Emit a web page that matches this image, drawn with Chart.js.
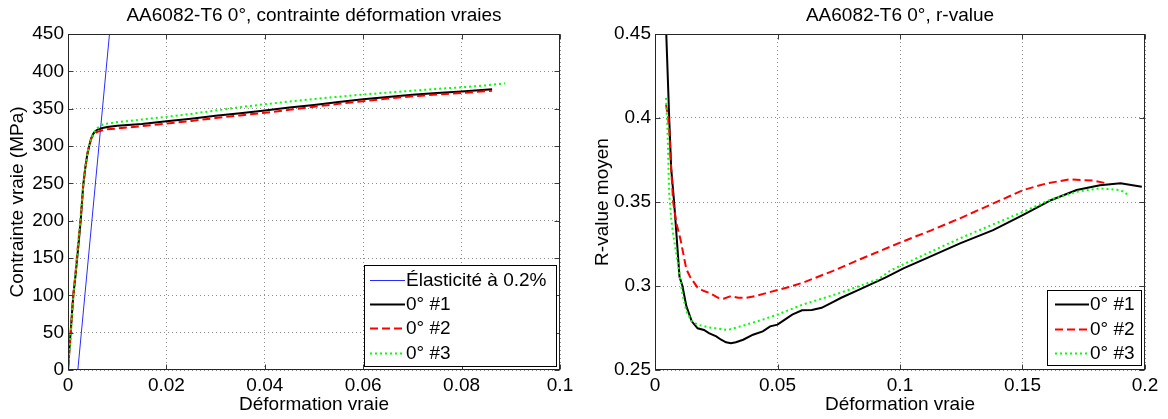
<!DOCTYPE html>
<html>
<head>
<meta charset="utf-8">
<script src="https://cdn.jsdelivr.net/npm/chart.js@4.4.1/dist/chart.umd.min.js"></script>
<style>
  html, body { margin: 0; padding: 0; background: #fff; }
  #wrap { position: relative; width: 1168px; height: 419px; overflow: hidden; background: #fff; }
  canvas { position: absolute; top: 0; }
  #stressChart { left: 0; }
  #rvalueChart { left: 584px; }
</style>
</head>
<body>
<div id="wrap">
  <canvas id="stressChart" width="584" height="419"></canvas>
  <canvas id="rvalueChart" width="584" height="419"></canvas>
</div>
<script>
// ---------- True stress / true strain (MPa) ----------
const elasticStrain = [0.002, 0.0086];
const elasticStress = [0, 462];

const strain1 = [0, 0.0003, 0.00055, 0.0008, 0.00108, 0.0015, 0.0019, 0.0023, 0.0026, 0.0031, 0.0035, 0.0039, 0.0043, 0.0047, 0.0051, 0.0055, 0.006, 0.007, 0.008, 0.01, 0.015, 0.02, 0.025, 0.03, 0.035, 0.04, 0.045, 0.05, 0.055, 0.06, 0.065, 0.07, 0.075, 0.08, 0.0862];
const stress1 = [0, 30, 52, 75, 100, 125, 152, 180, 202, 248, 270, 288, 300, 310, 316, 319.5, 322, 324, 325.5, 327, 329.5, 333, 336.5, 340.5, 344, 347.5, 351.5, 355, 359, 362.5, 365.5, 368.5, 371, 373, 376];

const strain2 = [0, 0.0003, 0.0006, 0.001, 0.0015, 0.002, 0.0026, 0.0031, 0.0036, 0.004, 0.0044, 0.0048, 0.0052, 0.0056, 0.006, 0.007, 0.008, 0.01, 0.015, 0.02, 0.025, 0.03, 0.035, 0.04, 0.045, 0.05, 0.055, 0.06, 0.065, 0.07, 0.075, 0.08, 0.0862];
const stress2 = [0, 28, 52, 95, 128, 165, 205, 248, 275, 292, 303, 311, 315, 317.5, 319, 321, 322.5, 323.5, 326.5, 330, 333.5, 337.5, 341, 344.5, 348.5, 352.5, 356.5, 360, 363.5, 366.5, 369, 371, 374];

const strain3 = [0, 0.0004, 0.0008, 0.0012, 0.0017, 0.0022, 0.0027, 0.0032, 0.0037, 0.0042, 0.0047, 0.0052, 0.006, 0.007, 0.008, 0.01, 0.015, 0.02, 0.025, 0.03, 0.035, 0.04, 0.045, 0.05, 0.055, 0.06, 0.065, 0.07, 0.075, 0.08, 0.085, 0.0888];
const stress3 = [0, 35, 72, 108, 140, 180, 215, 255, 281, 298, 310, 318, 324, 328.5, 330, 332, 335.5, 339, 343, 347.5, 352, 356, 359.5, 363, 366, 369, 371.5, 374, 376.5, 378.6, 381.2, 384];

const stressXTicks = [0, 0.02, 0.04, 0.06, 0.08, 0.1];
const stressXLabels = ['0', '0.02', '0.04', '0.06', '0.08', '0.1'];
const stressYTicks = [0, 50, 100, 150, 200, 250, 300, 350, 400, 450];
const stressYLabels = ['0', '50', '100', '150', '200', '250', '300', '350', '400', '450'];

// ---------- Mean r-value / true strain ----------
const rStrain1 = [0.0044, 0.0046, 0.0052, 0.0058, 0.0066, 0.0078, 0.0088, 0.01, 0.0112, 0.0128, 0.015, 0.0174, 0.02, 0.022, 0.025, 0.027, 0.029, 0.031, 0.033, 0.036, 0.04, 0.044, 0.047, 0.05, 0.053, 0.056, 0.06, 0.064, 0.068, 0.072, 0.076, 0.082, 0.088, 0.094, 0.1014, 0.11, 0.1245, 0.138, 0.1503, 0.1618, 0.1721, 0.1816, 0.19, 0.1987];
const rValue1 = [0.47, 0.45, 0.425, 0.40, 0.37, 0.35, 0.33, 0.3055, 0.30, 0.288, 0.279, 0.2748, 0.2738, 0.272, 0.270, 0.268, 0.2665, 0.266, 0.2665, 0.268, 0.271, 0.273, 0.276, 0.277, 0.280, 0.283, 0.2855, 0.2857, 0.287, 0.290, 0.293, 0.297, 0.301, 0.305, 0.3105, 0.316, 0.3254, 0.3333, 0.3423, 0.3512, 0.3571, 0.360, 0.3611, 0.3591];

const rStrain2 = [0.0045, 0.0052, 0.0058, 0.0066, 0.0074, 0.0088, 0.01045, 0.0128, 0.0143, 0.0174, 0.02, 0.022, 0.0258, 0.028, 0.031, 0.034, 0.0373, 0.041, 0.045, 0.05, 0.055, 0.0604, 0.0727, 0.0837, 0.1, 0.1125, 0.1245, 0.1503, 0.1599, 0.1694, 0.1789, 0.1844];
const rValue2 = [0.408, 0.402, 0.393, 0.37, 0.35, 0.337, 0.3274, 0.31, 0.3055, 0.299, 0.297, 0.296, 0.293, 0.2925, 0.294, 0.293, 0.293, 0.294, 0.2956, 0.2976, 0.2995, 0.302, 0.309, 0.3159, 0.3258, 0.333, 0.3403, 0.3571, 0.3611, 0.3635, 0.3627, 0.3611];

const rStrain3 = [0.0045, 0.0051, 0.0055, 0.0058, 0.0066, 0.0075, 0.0086, 0.0097, 0.0112, 0.0128, 0.015, 0.0174, 0.022, 0.0297, 0.0373, 0.044, 0.05, 0.0604, 0.0758, 0.0911, 0.0959, 0.1, 0.1245, 0.1503, 0.1618, 0.1721, 0.1816, 0.19, 0.1932];
const rValue3 = [0.412, 0.393, 0.37, 0.355, 0.34, 0.33, 0.32, 0.31, 0.295, 0.285, 0.279, 0.277, 0.2754, 0.2738, 0.277, 0.280, 0.283, 0.289, 0.296, 0.304, 0.309, 0.312, 0.3284, 0.3442, 0.3516, 0.3561, 0.3581, 0.3571, 0.3542];

const rXTicks = [0, 0.05, 0.1, 0.15, 0.2];
const rXLabels = ['0', '0.05', '0.1', '0.15', '0.2'];
const rYTicks = [0.25, 0.3, 0.35, 0.4, 0.45];
const rYLabels = ['0.25', '0.3', '0.35', '0.4', '0.45'];

// ---------- helpers ----------
const FONT = "'Liberation Sans', Arial, Helvetica, sans-serif";
Chart.defaults.font.family = FONT;
Chart.defaults.font.size = 19;
Chart.defaults.color = '#000';

const zip = (xs, ys) => xs.map((x, i) => ({ x: x, y: ys[i] }));

function series(label, xs, ys, color, width, dash, order) {
  return {
    label: label,
    data: zip(xs, ys),
    showLine: true,
    borderColor: color,
    backgroundColor: color,
    borderWidth: width,
    borderDash: dash,
    pointRadius: 0,
    order: order,
    clip: 0
  };
}

// Axis box, inner ticks, titles and boxed legend drawn on top of the plot area
const matlabAxes = {
  id: 'matlabAxes',
  afterDatasetsDraw(chart, args, opts) {
    const ctx = chart.ctx;
    const a = chart.chartArea;
    const L = Math.round(a.left) + 0.5, R = Math.round(a.right) - 0.5;
    const T = Math.round(a.top) + 0.5, B = Math.round(a.bottom) - 0.5;
    ctx.save();
    ctx.setLineDash([]);
    // inner tick marks
    ctx.strokeStyle = '#3c3c3c';
    ctx.lineWidth = 1;
    const tl = 5;
    const xs = chart.scales.x, ys = chart.scales.y;
    ctx.beginPath();
    xs.ticks.forEach(t => {
      const p = Math.round(xs.getPixelForValue(t.value)) + 0.5;
      ctx.moveTo(p, B); ctx.lineTo(p, B - tl);
      ctx.moveTo(p, T); ctx.lineTo(p, T + tl);
    });
    ys.ticks.forEach(t => {
      const p = Math.round(ys.getPixelForValue(t.value)) + 0.5;
      ctx.moveTo(L, p); ctx.lineTo(L + tl, p);
      ctx.moveTo(R, p); ctx.lineTo(R - tl, p);
    });
    ctx.stroke();
    // box
    ctx.strokeStyle = '#262626';
    ctx.strokeRect(L, T, R - L, B - T);

    // legend
    const lg = opts.legend;
    if (lg) {
      ctx.fillStyle = '#fff';
      ctx.fillRect(lg.left, lg.top, lg.right - lg.left, lg.bottom - lg.top);
      ctx.strokeStyle = '#000';
      ctx.lineWidth = 1;
      ctx.strokeRect(lg.left + 0.5, lg.top + 0.5, lg.right - lg.left - 1, lg.bottom - lg.top - 1);
      ctx.font = '19px ' + FONT;
      ctx.textAlign = 'left';
      ctx.textBaseline = 'middle';
      lg.items.forEach((dsIndex, row) => {
        const ds = chart.data.datasets[dsIndex];
        const y = lg.rows[row];
        ctx.save();
        ctx.strokeStyle = ds.borderColor;
        ctx.lineWidth = ds.borderWidth;
        ctx.setLineDash(ds.borderDash || []);
        ctx.beginPath();
        ctx.moveTo(lg.lineX0, y + 0.5);
        ctx.lineTo(lg.lineX1, y + 0.5);
        ctx.stroke();
        ctx.restore();
        ctx.fillStyle = '#000';
        ctx.fillText(ds.label, lg.textX, y + 1);
      });
    }
    ctx.restore();
  },
  afterDraw(chart, args, opts) {
    const ctx = chart.ctx;
    const a = chart.chartArea;
    const cx = (a.left + a.right) / 2;
    const cy = (a.top + a.bottom) / 2;
    ctx.save();
    ctx.fillStyle = '#000';
    ctx.font = '19px ' + FONT;
    ctx.textAlign = 'center';
    ctx.textBaseline = 'alphabetic';
    ctx.fillText(opts.title, cx, opts.titleBaseline);
    ctx.fillText(opts.xTitle, cx, opts.xTitleBaseline);
    ctx.translate(opts.yTitleBaseline, cy);
    ctx.rotate(-Math.PI / 2);
    ctx.fillText(opts.yTitle, 0, 0);
    ctx.restore();
  }
};

function makeChart(canvasId, cfg) {
  const gridColor = '#8e8e8e';
  return new Chart(document.getElementById(canvasId), {
    type: 'scatter',
    data: { datasets: cfg.datasets },
    options: {
      responsive: false,
      animation: false,
      devicePixelRatio: 1,
      events: [],
      layout: { padding: { top: 34, right: cfg.padRight, left: 0, bottom: 0 } },
      plugins: {
        legend: { display: false },
        tooltip: { enabled: false },
        matlabAxes: cfg.frame
      },
      scales: {
        x: {
          type: 'linear',
          min: cfg.xTicks[0],
          max: cfg.xTicks[cfg.xTicks.length - 1],
          afterFit: s => { s.height = 49; },
          afterBuildTicks: s => { s.ticks = cfg.xTicks.map(v => ({ value: v })); },
          ticks: {
            callback: (v, i) => cfg.xLabels[i],
            padding: 4,
            maxRotation: 0,
            autoSkip: false,
            color: '#000',
            font: { size: 19 }
          },
          grid: { color: gridColor, lineWidth: 1, drawTicks: false },
          border: { display: false, dash: [1, 3] }
        },
        y: {
          type: 'linear',
          min: cfg.yTicks[0],
          max: cfg.yTicks[cfg.yTicks.length - 1],
          afterFit: s => { s.width = cfg.yAxisWidth; },
          afterBuildTicks: s => { s.ticks = cfg.yTicks.map(v => ({ value: v })); },
          ticks: {
            callback: (v, i) => cfg.yLabels[i],
            padding: 4,
            autoSkip: false,
            color: '#000',
            font: { size: 19 }
          },
          grid: { color: gridColor, lineWidth: 1, drawTicks: false },
          border: { display: false, dash: [1, 3] }
        }
      }
    },
    plugins: [matlabAxes]
  });
}

makeChart('stressChart', {
  datasets: [
    series('Élasticité à 0.2%', elasticStrain, elasticStress, '#2a2aff', 1, [], 3),
    series('0° #1', strain1, stress1, '#000000', 2, [], 2),
    series('0° #2', strain2, stress2, '#ff0000', 2, [8, 4], 1),
    series('0° #3', strain3, stress3, '#00ff00', 2, [2, 3], 0)
  ],
  xTicks: stressXTicks, xLabels: stressXLabels,
  yTicks: stressYTicks, yLabels: stressYLabels,
  yAxisWidth: 68, padRight: 24,
  frame: {
    title: 'AA6082-T6 0°, contrainte déformation vraies',
    titleBaseline: 21,
    xTitle: 'Déformation vraie',
    xTitleBaseline: 410,
    yTitle: 'Contrainte vraie (MPa)',
    yTitleBaseline: 23,
    legend: {
      left: 364, top: 265, right: 557, bottom: 367,
      lineX0: 370, lineX1: 405, textX: 406,
      rows: [280, 304, 328, 353],
      items: [0, 1, 2, 3]
    }
  }
});

makeChart('rvalueChart', {
  datasets: [
    series('0° #1', rStrain1, rValue1, '#000000', 2, [], 2),
    series('0° #2', rStrain2, rValue2, '#ff0000', 2, [8, 4], 1),
    series('0° #3', rStrain3, rValue3, '#00ff00', 2, [2, 3], 0)
  ],
  xTicks: rXTicks, xLabels: rXLabels,
  yTicks: rYTicks, yLabels: rYLabels,
  yAxisWidth: 71, padRight: 23,
  frame: {
    title: 'AA6082-T6 0°, r-value',
    titleBaseline: 21,
    xTitle: 'Déformation vraie',
    xTitleBaseline: 410,
    yTitle: 'R-value moyen',
    yTitleBaseline: 24,
    legend: {
      left: 463, top: 290, right: 558, bottom: 366,
      lineX0: 471, lineX1: 505, textX: 506,
      rows: [304, 329, 353],
      items: [0, 1, 2]
    }
  }
});
</script>
</body>
</html>
